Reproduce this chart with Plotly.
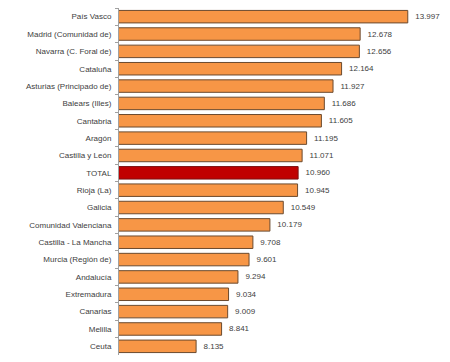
import plotly.graph_objects as go

categories = ["País Vasco", "Madrid (Comunidad de)", "Navarra (C. Foral de)", "Cataluña",
              "Asturias (Principado de)", "Balears (Illes)", "Cantabria", "Aragón",
              "Castilla y León", "TOTAL", "Rioja (La)", "Galicia", "Comunidad Valenciana",
              "Castilla - La Mancha", "Murcia (Región de)", "Andalucía", "Extremadura",
              "Canarias", "Melilla", "Ceuta"]
values = [13997, 12678, 12656, 12164, 11927, 11686, 11605, 11195, 11071, 10960,
          10945, 10549, 10179, 9708, 9601, 9294, 9034, 9009, 8841, 8135]
labels = ["  " + f"{v:,}".replace(",", ".") for v in values]

colors = ["#C00000" if c == "TOTAL" else "#F79646" for c in categories]
lines = ["#7A1010" if c == "TOTAL" else "#6B4A2E" for c in categories]

fig = go.Figure(go.Bar(
    x=values, y=categories, orientation="h",
    marker=dict(color=colors, line=dict(color=lines, width=1)),
    text=labels, textposition="outside", cliponaxis=False,
    textfont=dict(family="Liberation Sans, Arial", size=8, color="#404040"),
    width=0.72,
))
fig.update_layout(
    width=442, height=354,
    margin=dict(l=111, r=6, t=0, b=7),
    paper_bgcolor="white", plot_bgcolor="white",
    showlegend=False,
    font=dict(family="Liberation Sans, Arial", size=8, color="#404040"),
    xaxis=dict(range=[6000, 15000], visible=False),
    yaxis=dict(autorange="reversed", showline=True, linecolor="#A0A0A0", linewidth=1,
               ticks="outside", tickson="boundaries", ticklen=3, tickcolor="#A0A0A0",
               ticklabelstandoff=5, automargin=False),
)
fig.write_html("out.html")
